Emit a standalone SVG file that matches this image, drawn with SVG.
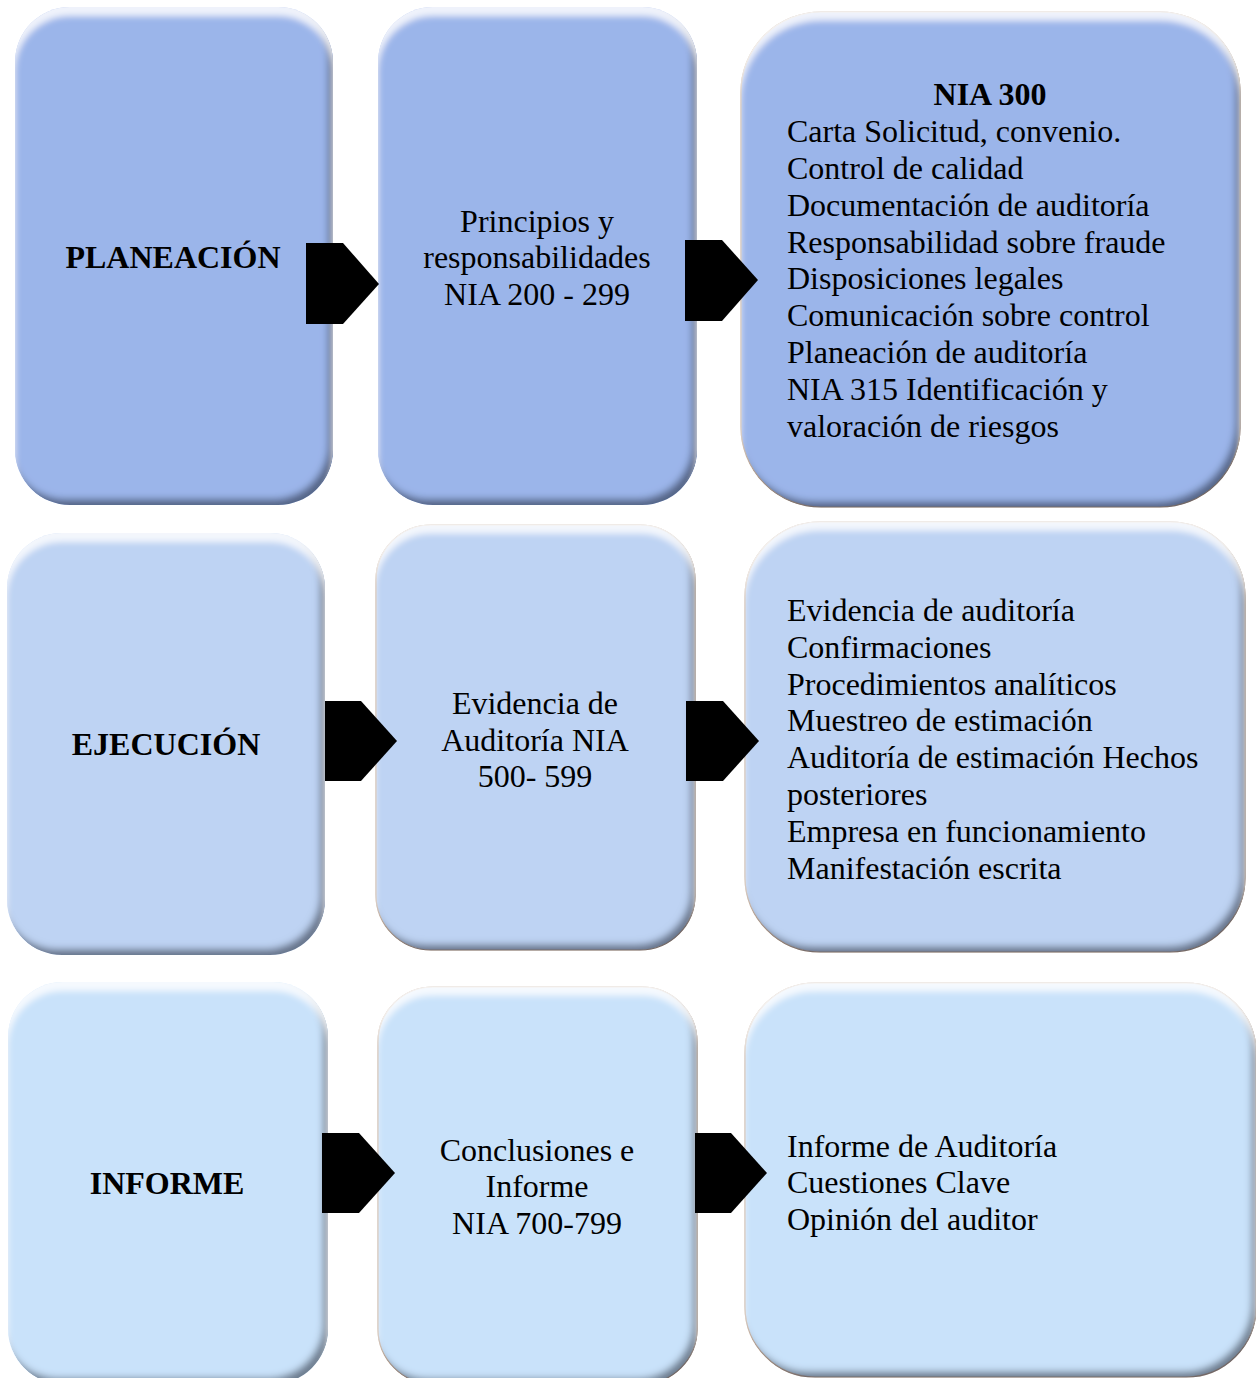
<svg xmlns="http://www.w3.org/2000/svg" width="1256" height="1378" viewBox="0 0 1256 1378">
<style>
text{font-family:"Liberation Serif","Times New Roman",serif;font-size:32px;fill:#000}
.b{font-weight:bold}
.c{text-anchor:middle}
.r1{fill:#9bb5ea}
.r2{fill:#bed3f3}
.r3{fill:#c9e2fa}
.edge{stroke:#c9b4a4;stroke-width:1.2}
.arrow{fill:#000}
</style>
<defs>
<filter id="bev" x="-5%" y="-5%" width="110%" height="110%">
 <feOffset in="SourceAlpha" dx="-5" dy="-6" result="o1"/>
 <feGaussianBlur in="o1" stdDeviation="3.5" result="b1"/>
 <feComposite in="SourceAlpha" in2="b1" operator="arithmetic" k2="1" k3="-1" result="d1"/>
 <feFlood flood-color="#1c2740" flood-opacity="0.75"/>
 <feComposite in2="d1" operator="in" result="dark"/>
 <feOffset in="SourceAlpha" dx="0" dy="9" result="o2"/>
 <feGaussianBlur in="o2" stdDeviation="3" result="b2"/>
 <feComposite in="SourceAlpha" in2="b2" operator="arithmetic" k2="1" k3="-1" result="d2"/>
 <feFlood flood-color="#ffffff" flood-opacity="0.8"/>
 <feComposite in2="d2" operator="in" result="light"/>
 <feMerge><feMergeNode in="SourceGraphic"/><feMergeNode in="dark"/><feMergeNode in="light"/></feMerge>
</filter>
</defs>
<rect width="1256" height="1378" fill="#fff"/>

<g id="planeacion">
 <rect class="r1" x="15" y="7" width="318" height="498" rx="55" filter="url(#bev)"/>
 <text class="b c" x="173" y="268">PLANEACIÓN</text>
</g>
<g id="principios">
 <rect class="r1" x="378" y="7" width="319" height="498" rx="55" filter="url(#bev)"/>
 <text class="c" x="537" y="232">Principios y</text>
 <text class="c" x="537" y="268">responsabilidades</text>
 <text class="c" x="537" y="305">NIA 200 - 299</text>
</g>
<g id="nia300">
 <rect class="r1 edge" x="741" y="12" width="499" height="495" rx="80" filter="url(#bev)"/>
 <text class="b c" x="990" y="105">NIA 300</text>
 <text x="787" y="142">Carta Solicitud, convenio.</text>
 <text x="787" y="179">Control de calidad</text>
 <text x="787" y="216">Documentación de auditoría</text>
 <text x="787" y="253">Responsabilidad sobre fraude</text>
 <text x="787" y="289">Disposiciones legales</text>
 <text x="787" y="326">Comunicación sobre control</text>
 <text x="787" y="363">Planeación de auditoría</text>
 <text x="787" y="400">NIA 315 Identificación y</text>
 <text x="787" y="437">valoración de riesgos</text>
</g>

<g id="ejecucion">
 <rect class="r2" x="7" y="533" width="318" height="422" rx="55" filter="url(#bev)"/>
 <text class="b c" x="166" y="755">EJECUCIÓN</text>
</g>
<g id="evidencia">
 <rect class="r2 edge" x="376" y="525" width="319" height="425" rx="55" filter="url(#bev)"/>
 <text class="c" x="535" y="714">Evidencia de</text>
 <text class="c" x="535" y="751">Auditoría NIA</text>
 <text class="c" x="535" y="787">500- 599</text>
</g>
<g id="evidencia-lista">
 <rect class="r2 edge" x="745" y="522" width="500" height="430" rx="75" filter="url(#bev)"/>
 <text x="787" y="621">Evidencia de auditoría</text>
 <text x="787" y="658">Confirmaciones</text>
 <text x="787" y="695">Procedimientos analíticos</text>
 <text x="787" y="731">Muestreo de estimación</text>
 <text x="787" y="768">Auditoría de estimación Hechos</text>
 <text x="787" y="805">posteriores</text>
 <text x="787" y="842">Empresa en funcionamiento</text>
 <text x="787" y="879">Manifestación escrita</text>
</g>

<g id="informe">
 <rect class="r3" x="8" y="982" width="320" height="402" rx="55" filter="url(#bev)"/>
 <text class="b c" x="167" y="1194">INFORME</text>
</g>
<g id="conclusiones">
 <rect class="r3 edge" x="378" y="987" width="319" height="397" rx="55" filter="url(#bev)"/>
 <text class="c" x="537" y="1161">Conclusiones e</text>
 <text class="c" x="537" y="1197">Informe</text>
 <text class="c" x="537" y="1234">NIA 700-799</text>
</g>
<g id="informe-lista">
 <rect class="r3 edge" x="745" y="983" width="511" height="394" rx="70" filter="url(#bev)"/>
 <text x="787" y="1157">Informe de Auditoría</text>
 <text x="787" y="1193">Cuestiones Clave</text>
 <text x="787" y="1230">Opinión del auditor</text>
</g>

<g id="connectors">
 <polygon class="arrow" points="306,243 343,243 379,284 343,324 306,324"/>
 <polygon class="arrow" points="685,240 722,240 758,280 722,321 685,321"/>
 <polygon class="arrow" points="325,701 361,701 397,741 361,781 325,781"/>
 <polygon class="arrow" points="686,701 723,701 759,741 723,781 686,781"/>
 <polygon class="arrow" points="322,1133 359,1133 395,1173 359,1213 322,1213"/>
 <polygon class="arrow" points="695,1133 731,1133 767,1173 731,1213 695,1213"/>
</g>
</svg>
